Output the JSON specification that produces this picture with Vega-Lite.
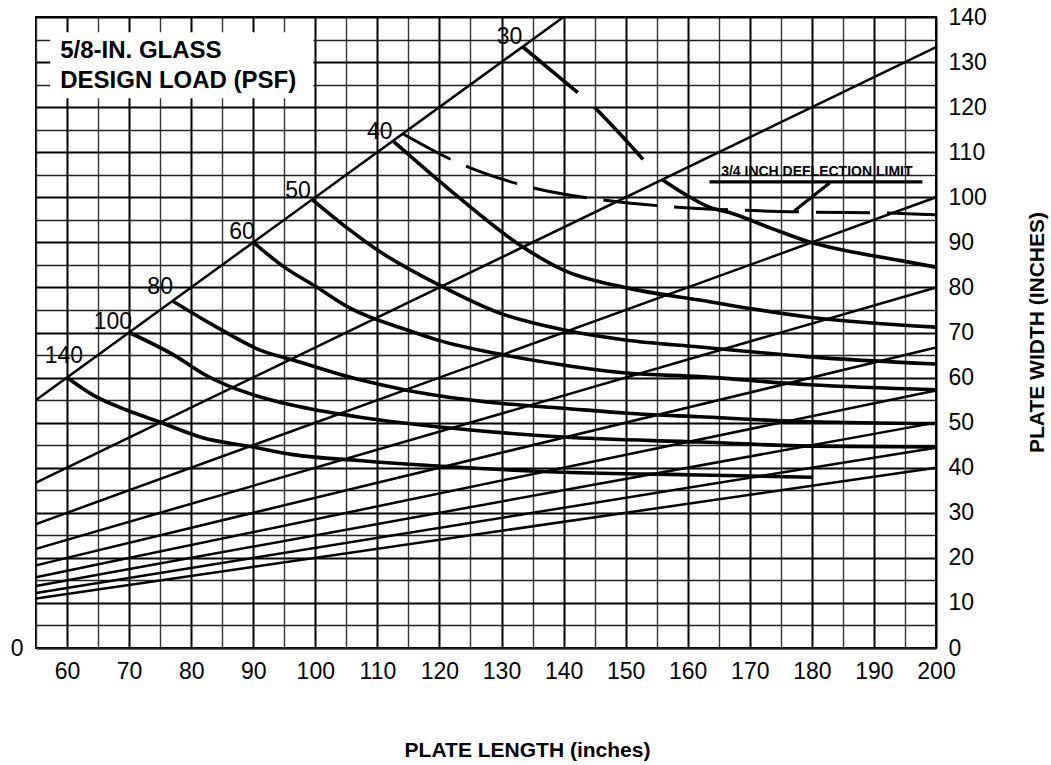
{
  "$schema": "https://vega.github.io/schema/vega-lite/v6.json",
  "width": 900,
  "height": 631,
  "autosize": {"type": "none"},
  "padding": {"left": 36, "top": 17, "right": 115, "bottom": 117},
  "background": "white",
  "config": {
    "font": "Liberation Sans",
    "view": {"stroke": "black", "strokeWidth": 2}
  },
  "datasets": {
    "diag": [
      {"ratio": 1, "x": 55, "y": 55}, {"ratio": 1, "x": 140, "y": 140},
      {"ratio": 1.5, "x": 55, "y": 36.67}, {"ratio": 1.5, "x": 200, "y": 133.33},
      {"ratio": 2, "x": 55, "y": 27.5}, {"ratio": 2, "x": 200, "y": 100},
      {"ratio": 2.5, "x": 55, "y": 22}, {"ratio": 2.5, "x": 200, "y": 80},
      {"ratio": 3, "x": 55, "y": 18.33}, {"ratio": 3, "x": 200, "y": 66.67},
      {"ratio": 3.5, "x": 55, "y": 15.71}, {"ratio": 3.5, "x": 200, "y": 57.14},
      {"ratio": 4, "x": 55, "y": 13.75}, {"ratio": 4, "x": 200, "y": 50},
      {"ratio": 4.5, "x": 55, "y": 12.22}, {"ratio": 4.5, "x": 200, "y": 44.44},
      {"ratio": 5, "x": 55, "y": 11}, {"ratio": 5, "x": 200, "y": 40}
    ],
    "curves": [
      {"seg": "140", "x": 60, "y": 60}, {"seg": "140", "x": 64.2, "y": 56.1}, {"seg": "140", "x": 69.6, "y": 52.8},
      {"seg": "140", "x": 75, "y": 50.1}, {"seg": "140", "x": 82, "y": 46.6}, {"seg": "140", "x": 89.5, "y": 44.7},
      {"seg": "140", "x": 96.4, "y": 42.9}, {"seg": "140", "x": 107, "y": 41.6}, {"seg": "140", "x": 121.7, "y": 40.2},
      {"seg": "140", "x": 139.9, "y": 39}, {"seg": "140", "x": 161.9, "y": 38.4}, {"seg": "140", "x": 180, "y": 37.9},

      {"seg": "100", "x": 70, "y": 70}, {"seg": "100", "x": 77.7, "y": 64.6}, {"seg": "100", "x": 82, "y": 60.8},
      {"seg": "100", "x": 86.8, "y": 57.7}, {"seg": "100", "x": 93.8, "y": 54.7}, {"seg": "100", "x": 101.8, "y": 52.4},
      {"seg": "100", "x": 107.2, "y": 51.2}, {"seg": "100", "x": 121.7, "y": 48.8}, {"seg": "100", "x": 139.9, "y": 46.8},
      {"seg": "100", "x": 161.9, "y": 45.7}, {"seg": "100", "x": 179.6, "y": 44.8}, {"seg": "100", "x": 200, "y": 44.6},

      {"seg": "80", "x": 77, "y": 77}, {"seg": "80", "x": 84.1, "y": 71.2}, {"seg": "80", "x": 91.1, "y": 66.1},
      {"seg": "80", "x": 96.4, "y": 63.9}, {"seg": "80", "x": 107.2, "y": 59.5}, {"seg": "80", "x": 114.7, "y": 57.2},
      {"seg": "80", "x": 129.7, "y": 54.3}, {"seg": "80", "x": 139.9, "y": 53.2}, {"seg": "80", "x": 150.2, "y": 52.1},
      {"seg": "80", "x": 161.9, "y": 51.3}, {"seg": "80", "x": 179.6, "y": 50.2}, {"seg": "80", "x": 200, "y": 49.8},

      {"seg": "60", "x": 90, "y": 90}, {"seg": "60", "x": 95, "y": 84.5}, {"seg": "60", "x": 100.2, "y": 80.1},
      {"seg": "60", "x": 105.6, "y": 75.4}, {"seg": "60", "x": 114.7, "y": 70.6}, {"seg": "60", "x": 120, "y": 68.2},
      {"seg": "60", "x": 129.7, "y": 65.2}, {"seg": "60", "x": 139.9, "y": 62.8}, {"seg": "60", "x": 150.2, "y": 61},
      {"seg": "60", "x": 161.9, "y": 60.2}, {"seg": "60", "x": 179.6, "y": 58.4}, {"seg": "60", "x": 200, "y": 57.3},

      {"seg": "50", "x": 99.5, "y": 99.5}, {"seg": "50", "x": 105.6, "y": 92.7}, {"seg": "50", "x": 110, "y": 88.3},
      {"seg": "50", "x": 120, "y": 80.5}, {"seg": "50", "x": 129.7, "y": 74.3}, {"seg": "50", "x": 139.9, "y": 70.6},
      {"seg": "50", "x": 150.2, "y": 68.3}, {"seg": "50", "x": 161.9, "y": 66.8}, {"seg": "50", "x": 179.6, "y": 64.6},
      {"seg": "50", "x": 200, "y": 63},

      {"seg": "40", "x": 112.5, "y": 112.5}, {"seg": "40", "x": 121.7, "y": 101.6}, {"seg": "40", "x": 133.4, "y": 89},
      {"seg": "40", "x": 139.9, "y": 83.9}, {"seg": "40", "x": 150.2, "y": 79.9}, {"seg": "40", "x": 161.9, "y": 77.2},
      {"seg": "40", "x": 179.6, "y": 73.4}, {"seg": "40", "x": 200, "y": 71.2},

      {"seg": "30a", "x": 133.4, "y": 133.4}, {"seg": "30a", "x": 142.3, "y": 123.2},
      {"seg": "30b", "x": 145, "y": 120}, {"seg": "30b", "x": 149, "y": 114.2}, {"seg": "30b", "x": 152.8, "y": 108.4},
      {"seg": "30c", "x": 155.8, "y": 104}, {"seg": "30c", "x": 160, "y": 100.3}, {"seg": "30c", "x": 163.5, "y": 97.8},
      {"seg": "30c", "x": 167.2, "y": 96.4}, {"seg": "30c", "x": 173.5, "y": 93.1}, {"seg": "30c", "x": 179.6, "y": 90.1},
      {"seg": "30c", "x": 185, "y": 88.3}, {"seg": "30c", "x": 194.1, "y": 86}, {"seg": "30c", "x": 200, "y": 84.5}
    ],
    "deflect": [
      {"x": 114.1, "y": 114.1}, {"x": 122.8, "y": 107.8}, {"x": 134.5, "y": 102.3}, {"x": 145.8, "y": 99.5},
      {"x": 157.4, "y": 97.9}, {"x": 169.2, "y": 97.1}, {"x": 180.7, "y": 96.7}, {"x": 192, "y": 96.5}, {"x": 200, "y": 96.1}
    ],
    "leader": [
      {"part": "underline", "x": 163.5, "y": 103.4}, {"part": "underline", "x": 197.8, "y": 103.4},
      {"part": "pointer", "x": 177.2, "y": 97}, {"part": "pointer", "x": 182.9, "y": 103.2}
    ],
    "loadLabels": [
      {"label": "30", "x": 131.3, "y": 135.6},
      {"label": "40", "x": 110.4, "y": 114.5},
      {"label": "50", "x": 97.2, "y": 101.3},
      {"label": "60", "x": 88.2, "y": 92.3},
      {"label": "80", "x": 75, "y": 80.1},
      {"label": "100", "x": 67.4, "y": 72.3},
      {"label": "140", "x": 59.5, "y": 64.8}
    ],
    "boxText": [
      {"text": "5/8-IN. GLASS", "x": 58.9, "y": 130.9},
      {"text": "DESIGN LOAD (PSF)", "x": 58.9, "y": 124.3}
    ],
    "limitText": [
      {"text": "3/4 INCH DEFLECTION LIMIT", "x": 180.8, "y": 105.6}
    ]
  },
  "layer": [
    {
      "data": {"name": "diag"},
      "mark": {"type": "line", "stroke": "black", "strokeWidth": 2.5},
      "encoding": {
        "x": {
          "field": "x", "type": "quantitative",
          "scale": {"domain": [55, 200], "nice": false, "zero": false},
          "axis": {
            "orient": "bottom",
            "values": [60, 70, 80, 90, 100, 110, 120, 130, 140, 150, 160, 170, 180, 190, 200],
            "grid": true,
            "gridColor": "#000000",
            "gridWidth": 2,
            "gridOpacity": 1,
            "ticks": false,
            "domain": false,
            "labelFlush": false,
            "labelOverlap": false,
            "labelBound": false,
            "labelFontSize": 23,
            "labelColor": "black",
            "labelPadding": 12,
            "title": "PLATE LENGTH (inches)",
            "titleFontSize": 21,
            "titleFontWeight": "bold",
            "titleColor": "black",
            "titleX": 491,
            "titleY": 108,
            "titleAlign": "center",
            "titleBaseline": "alphabetic"
          }
        },
        "y": {
          "field": "y", "type": "quantitative",
          "scale": {"domain": [0, 140], "nice": false, "zero": false},
          "axis": {
            "orient": "right",
            "values": [0, 10, 20, 30, 40, 50, 60, 70, 80, 90, 100, 110, 120, 130, 140],
            "grid": true,
            "gridColor": "#000000",
            "gridWidth": 2,
            "gridOpacity": 1,
            "ticks": false,
            "domain": false,
            "labelFlush": false,
            "labelOverlap": false,
            "labelBound": false,
            "labelFontSize": 23,
            "labelColor": "black",
            "labelPadding": 12,
            "labelBaseline": "middle",
            "title": "PLATE WIDTH (INCHES)",
            "titleFontSize": 21,
            "titleFontWeight": "bold",
            "titleColor": "black",
            "titleAngle": 270,
            "titleX": 101,
            "titleY": 315,
            "titleAlign": "center",
            "titleBaseline": "middle"
          }
        },
        "detail": {"field": "ratio", "type": "nominal"}
      }
    },
    {
      "data": {"values": [{}]},
      "mark": {"type": "rect", "fill": "white", "stroke": null},
      "encoding": {
        "x": {
          "datum": 57.3, "type": "quantitative",
          "axis": {
            "orient": "top",
            "values": [55, 65, 75, 85, 95, 105, 115, 125, 135, 145, 155, 165, 175, 185, 195],
            "grid": true,
            "gridColor": "#333333",
            "gridWidth": 1.4,
            "gridOpacity": 1,
            "ticks": false,
            "domain": false,
            "labels": false,
            "title": null
          }
        },
        "x2": {"datum": 99.7},
        "y": {
          "datum": 122, "type": "quantitative",
          "axis": {
            "orient": "left",
            "values": [0, 5, 15, 25, 35, 45, 55, 65, 75, 85, 95, 105, 115, 125, 135],
            "labelExpr": "datum.value === 0 ? '0' : ''",
            "grid": true,
            "gridColor": "#222222",
            "gridWidth": 1.5,
            "gridOpacity": 1,
            "ticks": false,
            "domain": false,
            "labelFontSize": 23,
            "labelColor": "black",
            "labelPadding": 13,
            "labelBaseline": "middle",
            "labelFlush": false,
            "labelOverlap": false,
            "labelBound": false,
            "title": null
          }
        },
        "y2": {"datum": 136.6}
      }
    },
    {
      "data": {"name": "curves"},
      "mark": {"type": "line", "stroke": "black", "strokeWidth": 3.6, "interpolate": "monotone", "strokeCap": "butt"},
      "encoding": {
        "x": {"field": "x", "type": "quantitative", "axis": null},
        "y": {"field": "y", "type": "quantitative", "axis": null},
        "detail": {"field": "seg", "type": "nominal"}
      }
    },
    {
      "data": {"name": "deflect"},
      "mark": {"type": "line", "stroke": "black", "strokeWidth": 3, "interpolate": "monotone", "strokeDash": [54, 17]},
      "encoding": {
        "x": {"field": "x", "type": "quantitative", "axis": null},
        "y": {"field": "y", "type": "quantitative", "axis": null}
      }
    },
    {
      "data": {"name": "leader"},
      "mark": {"type": "line", "stroke": "black", "strokeWidth": 3.2},
      "encoding": {
        "x": {"field": "x", "type": "quantitative", "axis": null},
        "y": {"field": "y", "type": "quantitative", "axis": null},
        "detail": {"field": "part", "type": "nominal"}
      }
    },
    {
      "data": {"name": "loadLabels"},
      "mark": {"type": "text", "fontSize": 23, "color": "black", "align": "center", "baseline": "middle"},
      "encoding": {
        "x": {"field": "x", "type": "quantitative", "axis": null},
        "y": {"field": "y", "type": "quantitative", "axis": null},
        "text": {"field": "label", "type": "nominal"}
      }
    },
    {
      "data": {"name": "boxText"},
      "mark": {"type": "text", "fontSize": 24, "fontWeight": "bold", "color": "black", "align": "left", "baseline": "alphabetic"},
      "encoding": {
        "x": {"field": "x", "type": "quantitative", "axis": null},
        "y": {"field": "y", "type": "quantitative", "axis": null},
        "text": {"field": "text", "type": "nominal"}
      }
    },
    {
      "data": {"name": "limitText"},
      "mark": {"type": "text", "fontSize": 14, "fontWeight": "bold", "color": "black", "align": "center", "baseline": "middle"},
      "encoding": {
        "x": {"field": "x", "type": "quantitative", "axis": null},
        "y": {"field": "y", "type": "quantitative", "axis": null},
        "text": {"field": "text", "type": "nominal"}
      }
    }
  ],
  "resolve": {"axis": {"x": "independent", "y": "independent"}}
}
